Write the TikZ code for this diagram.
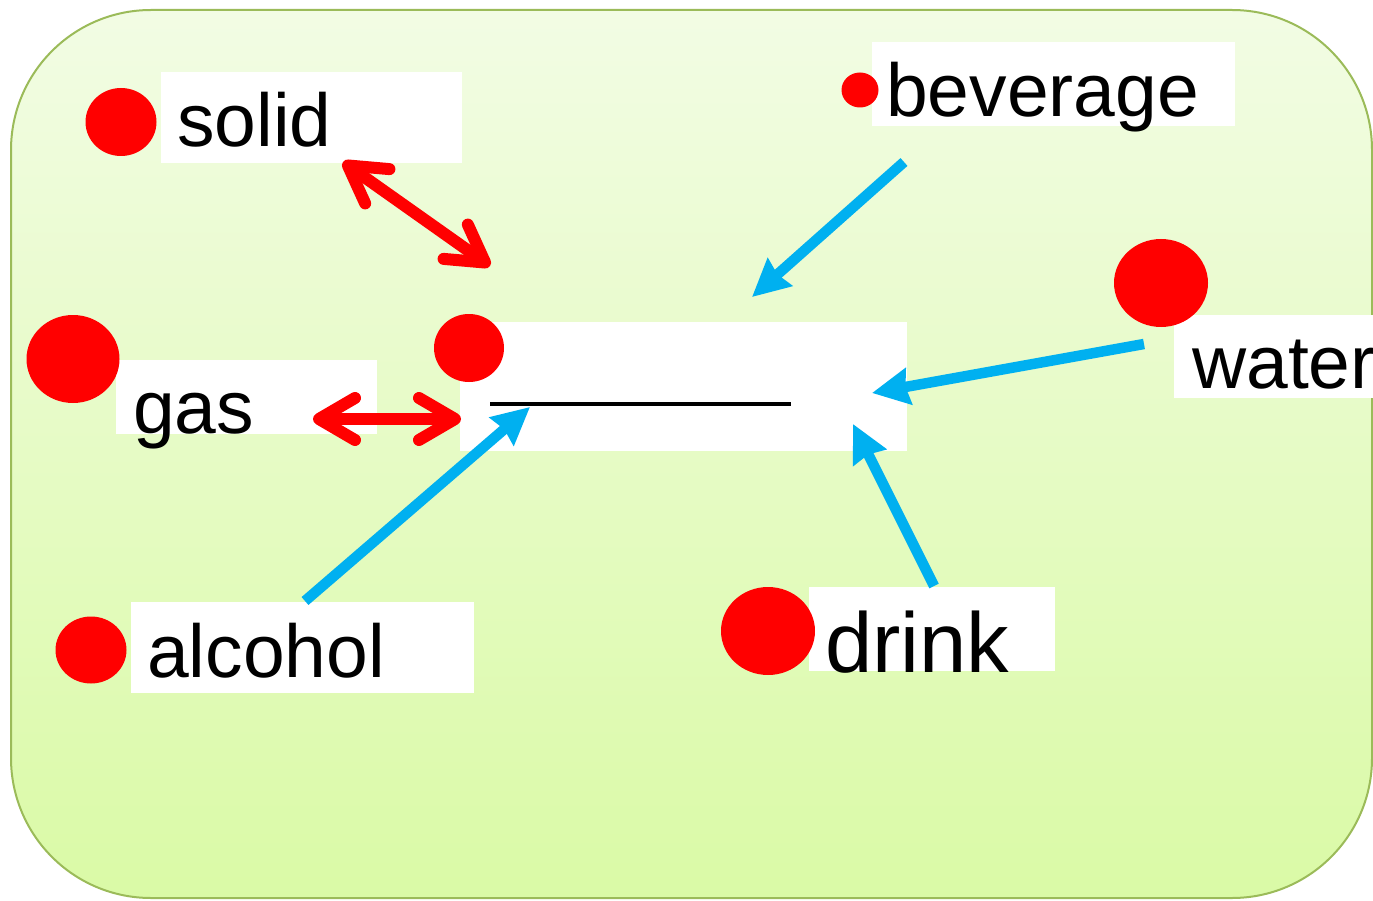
\documentclass[tikz,border=0pt]{standalone}
\usepackage{fontspec}
\setmainfont{Liberation Sans}
\usetikzlibrary{arrows.meta}
\usetikzlibrary{shapes.geometric}
\definecolor{paneltop}{RGB}{242,252,228}
\definecolor{panelbottom}{RGB}{218,250,166}
\definecolor{panelline}{RGB}{155,187,89}
\definecolor{arrowblue}{RGB}{0,176,240}
\tikzset{
	card/.style={fill=white, inner sep=0pt, anchor=north west},
	word/.style={inner sep=0pt, anchor=base west, font=\fontsize{75}{90}\selectfont},
	dot/.style={ellipse, fill=red, inner sep=0pt},
	link/.style={draw=red, line width=12pt, {Straight Barb[length=36pt, width=42pt, round]}-{Straight Barb[length=36pt, width=42pt, round]}},
	arrow/.style={draw=arrowblue, line width=10.5pt, -{Stealth[length=37pt, width=36pt, inset=3pt]}}
}

\begin{document}
\begin{tikzpicture}[x=1pt, y=-1pt]

\useasboundingbox (0,0) rectangle (1373,901);

\draw[panelline, line width=2pt, rounded corners=140pt, top color=paneltop, bottom color=panelbottom]
	(11,10) rectangle (1372,898);

\node[card, minimum width=301pt, minimum height=91pt] (solidcard) at (161,72) {};
\node[card, minimum width=363pt, minimum height=84pt] (beveragecard) at (872,42) {};
\node[card, minimum width=261pt, minimum height=74pt] (gascard) at (116,360) {};
\node[card, minimum width=447pt, minimum height=129pt] (blankcard) at (460,322) {};
\node[card, minimum width=199pt, minimum height=83pt] (watercard) at (1174,315) {};
\node[card, minimum width=246pt, minimum height=84pt] (drinkcard) at (809,587) {};
\node[card, minimum width=343pt, minimum height=91pt] (alcoholcard) at (131,602) {};

\node[dot, minimum width=71pt, minimum height=68pt] (soliddot) at (121,122) {};
\node[dot, minimum width=37pt, minimum height=35pt] (beveragedot) at (860,90) {};
\node[dot, minimum width=93pt, minimum height=88pt] (gasdot) at (73,359) {};
\node[dot, minimum width=70pt, minimum height=68pt] (blankdot) at (469,348) {};
\node[dot, minimum width=94pt, minimum height=88pt] (waterdot) at (1161,283) {};
\node[dot, minimum width=94pt, minimum height=88pt] (drinkdot) at (768,631) {};
\node[dot, minimum width=71pt, minimum height=67pt] (alcoholdot) at (91,650) {};

\node[word] (solid) at (177,147) {solid};
\node[word] (beverage) at (886,117) {beverage};
\node[word] (gas) at (133,433) {gas};
\node[word] (water) at (1192,388) {water};
\node[word, font=\fontsize{85}{100}\selectfont] (drink) at (825,672) {drink};
\node[word] (alcohol) at (147,677) {alcohol};

\draw[line width=4pt] (490,404) -- (791,404);

\coordinate (solidend) at (343,162);
\coordinate (solidtip) at (490,266);
\coordinate (gasend) at (313,419);
\coordinate (gastip) at (461,419);
\coordinate (beverageend) at (904,162);
\coordinate (beveragetip) at (752,297);
\coordinate (waterend) at (1144,344);
\coordinate (watertip) at (872,393);
\coordinate (drinkend) at (934,586);
\coordinate (drinktip) at (853,424);
\coordinate (alcoholend) at (305,601);
\coordinate (alcoholtip) at (530,407);

\draw [link] (solidend) -- (solidtip);
\draw [link] (gasend) -- (gastip);
\draw [arrow] (beverageend) -- (beveragetip);
\draw [arrow] (waterend) -- (watertip);
\draw [arrow] (drinkend) -- (drinktip);
\draw [arrow] (alcoholend) -- (alcoholtip);

\end{tikzpicture}
\end{document}
